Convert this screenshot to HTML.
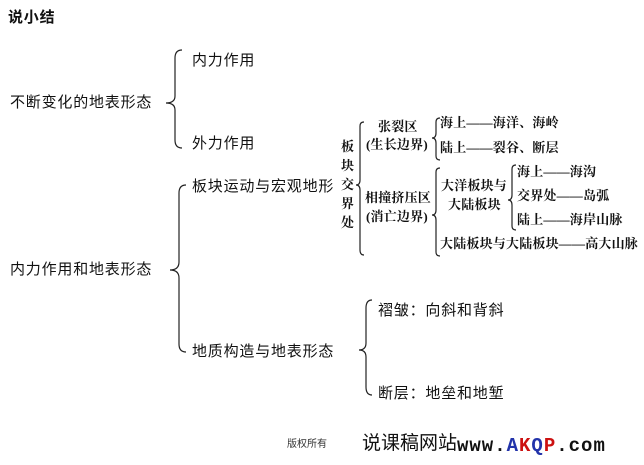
<!DOCTYPE html>
<html><head><meta charset="utf-8"><style>
html,body{margin:0;padding:0;background:#fff;}
body{width:644px;height:465px;position:relative;overflow:hidden;font-family:"Liberation Sans","Noto Sans CJK SC",sans-serif;color:#111;}
.t{position:absolute;white-space:nowrap;font-size:15px;letter-spacing:0.8px;line-height:1;}
.s{position:absolute;white-space:nowrap;font-size:13px;line-height:1;font-family:"Liberation Serif","Noto Serif CJK SC",serif;font-weight:bold;letter-spacing:0.2px;}
svg{position:absolute;left:0;top:0;}
</style></head><body>
<svg width="644" height="465" fill="none" stroke="#222" stroke-width="1.2">
<path d="M182,50 Q175,50 175,58 L175,96 Q175,103 166,103 Q175,103 175,110 L175,140 Q175,148 182,148"/>
<path d="M186,185 Q179,185 179,193 L179,262 Q179,270 170,270 Q179,270 179,278 L179,344 Q179,352 186,352"/>
<path d="M364,122 Q360,122 360,126 L360,180 Q360,185 356,185 Q360,185 360,190 L360,250 Q360,255 364,255"/>
<path d="M440,118 Q436,118 436,122 L436,133 Q436,138 432,138 Q436,138 436,143 L436,156 Q436,160 440,160"/>
<path d="M440,168 Q436,168 436,172 L436,210 Q436,215 432,215 Q436,215 436,220 L436,252 Q436,256 440,256"/>
<path d="M516,165 Q512,165 512,169 L512,195 Q512,200 508,200 Q512,200 512,205 L512,226 Q512,230 516,230"/>
<path d="M372,300 Q366,300 366,308 L366,343 Q366,350 359,350 Q366,350 366,357 L366,387 Q366,395 372,395"/>
</svg>
<div class="t" style="left:8px;top:10px;font-weight:bold;font-size:15px;">说小结</div>
<div class="t" style="left:10px;top:95px;">不断变化的地表形态</div>
<div class="t" style="left:192px;top:53px;">内力作用</div>
<div class="t" style="left:192px;top:136px;">外力作用</div>
<div class="t" style="left:10px;top:262px;">内力作用和地表形态</div>
<div class="t" style="left:192px;top:179px;">板块运动与宏观地形</div>
<div class="t" style="left:192px;top:344px;">地质构造与地表形态</div>
<div class="s" style="left:341px;top:137px;line-height:19px;width:14px;white-space:normal;">板块交界处</div>
<div class="s" style="left:378px;top:120px;">张裂区</div>
<div class="s" style="left:366px;top:138px;">(生长边界)</div>
<div class="s" style="left:440px;top:116px;">海上——海洋、海岭</div>
<div class="s" style="left:440px;top:141px;">陆上——裂谷、断层</div>
<div class="s" style="left:365px;top:191px;">相撞挤压区</div>
<div class="s" style="left:366px;top:210px;">(消亡边界)</div>
<div class="s" style="left:441px;top:179px;">大洋板块与</div>
<div class="s" style="left:448px;top:198px;">大陆板块</div>
<div class="s" style="left:517px;top:165px;">海上——海沟</div>
<div class="s" style="left:517px;top:189px;">交界处——岛弧</div>
<div class="s" style="left:517px;top:213px;">陆上——海岸山脉</div>
<div class="s" style="left:440px;top:237px;">大陆板块与大陆板块——高大山脉</div>
<div class="t" style="left:378px;top:303px;">褶皱：向斜和背斜</div>
<div class="t" style="left:378px;top:386px;">断层：地垒和地堑</div>
<div class="t" style="left:287px;top:440px;font-size:10px;letter-spacing:0;color:#333;">版权所有</div>
<div class="t" style="left:362px;top:434px;font-size:19px;letter-spacing:0;">说课稿网站</div>
<div class="t" style="left:457px;top:437px;font-size:19px;letter-spacing:1px;font-family:'Liberation Mono',monospace;font-weight:bold;">www.<span style="color:#2233aa">A</span><span style="color:#cc1111">K</span><span style="color:#2233aa">Q</span><span style="color:#cc1111">P</span>.com</div>
</body></html>
